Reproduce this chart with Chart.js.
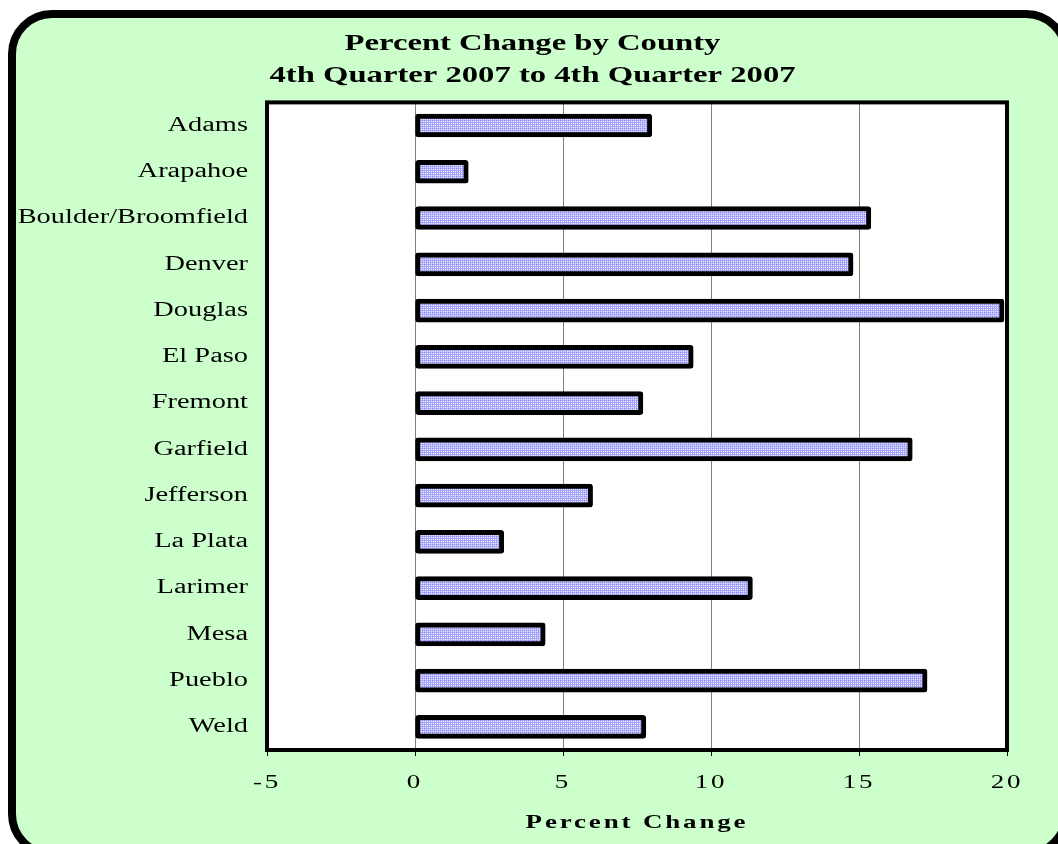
<!DOCTYPE html>
<html>
<head>
<meta charset="utf-8">
<script src="https://cdn.jsdelivr.net/npm/chart.js@4"></script>
<style>
  html, body { margin: 0; padding: 0; background: #ffffff; }
  #wrap { width: 1058px; height: 844px; }
</style>
</head>
<body>
<div id="wrap"><canvas id="myChart"></canvas></div>
<script>
const counties = ['Adams', 'Arapahoe', 'Boulder/Broomfield', 'Denver', 'Douglas', 'El Paso', 'Fremont',
  'Garfield', 'Jefferson', 'La Plata', 'Larimer', 'Mesa', 'Pueblo', 'Weld'];
const percentChange = [8.0, 1.8, 15.4, 14.8, 19.9, 9.4, 7.7, 16.8, 6.0, 3.0, 11.4, 4.4, 17.3, 7.8];
const titleLines = ['Percent Change by County', '4th Quarter 2007 to 4th Quarter 2007'];
const axisTitle = 'Percent Change';
const xMin = -5, xMax = 20, xStep = 5;

const canvas = document.getElementById('myChart');
const ctx = canvas.getContext('2d');

// the original text is wide (stretched Times), so stretch each string sideways
const TEXT_STRETCH = 1.42;
const TITLE_SHIFT = 23; // title sits a bit right of the plot centre in the original
const plainFillText = ctx.fillText.bind(ctx);
ctx.fillText = function (text, x, y, maxWidth) {
  this.save();
  const s = String(text);
  if (s === axisTitle) this.letterSpacing = '2px';
  else if (/^-?\d+$/.test(s)) this.letterSpacing = '2px';
  if (titleLines.includes(s)) x += TITLE_SHIFT;
  this.translate(x, y);
  this.scale(TEXT_STRETCH, 1);
  if (maxWidth === undefined) plainFillText(text, 0, 0);
  else plainFillText(text, 0, 0, maxWidth);
  this.restore();
};

// little crosshatch tile for the bar fill
function hatch() {
  const c = document.createElement('canvas');
  c.width = 4; c.height = 4;
  const g = c.getContext('2d');
  g.fillStyle = '#adadfb';
  g.fillRect(0, 0, 4, 4);
  g.fillStyle = '#8a8af4';
  g.fillRect(0, 0, 1, 1); g.fillRect(2, 2, 1, 1);
  g.fillStyle = '#e6e6ff';
  g.fillRect(1, 1, 1, 1); g.fillRect(3, 3, 1, 1); g.fillRect(3, 1, 1, 1); g.fillRect(1, 3, 1, 1);
  return g.createPattern(c, 'repeat');
}

const frame = {
  id: 'frame',
  beforeDraw(chart) {
    const c = chart.ctx, a = chart.chartArea;
    c.save();
    c.fillStyle = '#ccffcc';
    c.strokeStyle = '#000';
    c.lineWidth = 8;
    c.beginPath();
    c.roundRect(12, 14, 1054, 840, 40);
    c.fill();
    c.stroke();
    c.fillStyle = '#fff';
    c.fillRect(a.left, a.top, a.right - a.left, a.bottom - a.top);
    c.restore();
  },
  afterDatasetsDraw(chart) {
    const c = chart.ctx, a = chart.chartArea;
    c.save();
    c.strokeStyle = '#000';
    c.lineWidth = 4;
    c.strokeRect(a.left, a.top, a.right - a.left, a.bottom - a.top);
    c.restore();
  }
};

new Chart(canvas, {
  type: 'bar',
  data: {
    labels: counties,
    datasets: [{
      data: percentChange,
      backgroundColor: hatch(),
      borderColor: '#000',
      borderWidth: 5,
      borderRadius: 3,
      borderSkipped: false,
      barThickness: 23
    }]
  },
  options: {
    indexAxis: 'y',
    responsive: true,
    maintainAspectRatio: false,
    animation: false,
    layout: { padding: { left: 12, right: 51, top: 0, bottom: 0 } },
    scales: {
      x: {
        min: xMin,
        max: xMax,
        ticks: {
          stepSize: xStep,
          color: '#000',
          padding: 16,
          font: { family: 'Liberation Serif', size: 19 }
        },
        grid: { color: '#808080', lineWidth: 1, tickLength: 6, tickColor: '#000' },
        border: { display: false },
        title: {
          display: true,
          text: axisTitle,
          color: '#000',
          padding: { top: 4, bottom: 10 },
          font: { family: 'Liberation Serif', size: 19, weight: 'bold' }
        },
        afterFit(scale) { scale.height = 94; }
      },
      y: {
        ticks: {
          color: '#000',
          padding: 19,
          font: { family: 'Liberation Serif', size: 20 }
        },
        grid: { display: false, drawTicks: false },
        border: { display: false },
        afterFit(scale) { scale.width = 255; }
      }
    },
    plugins: {
      legend: { display: false },
      tooltip: { enabled: false },
      title: {
        display: true,
        text: titleLines,
        color: '#000',
        padding: { top: 28, bottom: 10 },
        font: { family: 'Liberation Serif', size: 23, weight: 'bold', lineHeight: 1.4 }
      }
    }
  },
  plugins: [frame]
});
</script>
</body>
</html>
